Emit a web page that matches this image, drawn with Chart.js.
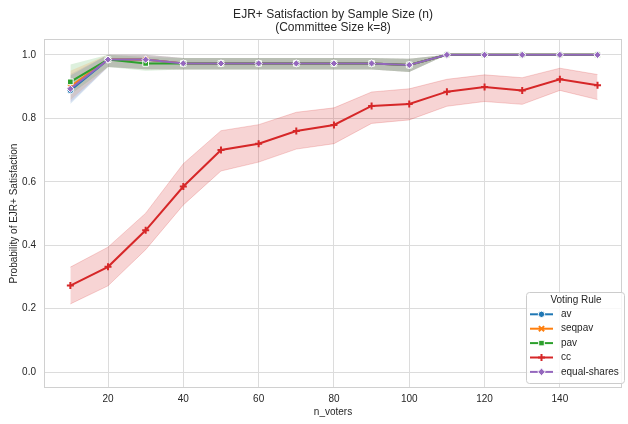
<!DOCTYPE html>
<html>
<head>
<meta charset="utf-8">
<script src="https://cdn.jsdelivr.net/npm/chart.js@4.4.0/dist/chart.umd.min.js"></script>
<style>
  html, body { margin: 0; padding: 0; background: #fff; overflow: hidden; }
  #wrap { width: 628px; height: 424px; }
</style>
</head>
<body>
<div id="wrap"><canvas id="chart" width="628" height="424"></canvas></div>
<script>
// =========================
// データ
// =========================
const nVoters = [10, 20, 30, 40, 50, 60, 70, 80, 90, 100, 110, 120, 130, 140, 150];

const avMean = [0.888, 0.985, 0.985, 0.973, 0.973, 0.973, 0.973, 0.973, 0.973, 0.968, 1, 1, 1, 1, 1];
const avLow  = [0.845, 0.962, 0.955, 0.954, 0.954, 0.954, 0.954, 0.954, 0.954, 0.946, 1, 1, 1, 1, 1];
const avHigh = [0.935, 1.000, 1.000, 0.990, 0.990, 0.990, 0.990, 0.990, 0.990, 0.988, 1, 1, 1, 1, 1];

const seqpavMean = [0.900, 0.985, 0.985, 0.973, 0.973, 0.973, 0.973, 0.973, 0.973, 0.968, 1, 1, 1, 1, 1];
const seqpavLow  = [0.858, 0.962, 0.955, 0.954, 0.954, 0.954, 0.954, 0.954, 0.954, 0.946, 1, 1, 1, 1, 1];
const seqpavHigh = [0.950, 1.000, 1.000, 0.990, 0.990, 0.990, 0.990, 0.990, 0.990, 0.988, 1, 1, 1, 1, 1];

const pavMean = [0.915, 0.985, 0.973, 0.973, 0.973, 0.973, 0.973, 0.973, 0.973, 0.968, 1, 1, 1, 1, 1];
const pavLow  = [0.875, 0.962, 0.950, 0.954, 0.954, 0.954, 0.954, 0.954, 0.954, 0.946, 1, 1, 1, 1, 1];
const pavHigh = [0.970, 1.000, 0.993, 0.990, 0.990, 0.990, 0.990, 0.990, 0.990, 0.988, 1, 1, 1, 1, 1];

const ccMean = [0.273, 0.332, 0.447, 0.585, 0.700, 0.720, 0.760, 0.779, 0.839, 0.845, 0.884, 0.899, 0.888, 0.923, 0.904];
const ccLow  = [0.215, 0.272, 0.386, 0.527, 0.634, 0.662, 0.703, 0.720, 0.784, 0.795, 0.838, 0.853, 0.844, 0.888, 0.859];
const ccHigh = [0.331, 0.394, 0.501, 0.657, 0.761, 0.780, 0.819, 0.833, 0.883, 0.893, 0.923, 0.937, 0.928, 0.958, 0.938];

const esMean = [0.893, 0.985, 0.985, 0.973, 0.973, 0.973, 0.973, 0.973, 0.973, 0.968, 1, 1, 1, 1, 1];
const esLow  = [0.850, 0.962, 0.955, 0.954, 0.954, 0.954, 0.954, 0.954, 0.954, 0.946, 1, 1, 1, 1, 1];
const esHigh = [0.940, 1.000, 1.000, 0.990, 0.990, 0.990, 0.990, 0.990, 0.990, 0.988, 1, 1, 1, 1, 1];

const yTicks = [0.0, 0.2, 0.4, 0.6, 0.8, 1.0];

const FONT = '"Liberation Sans", Arial, sans-serif';
const TEXT = '#262626';

// 系列の設定（ラベル・色・マーカー）
const series = [
  { label: 'av',           color: '#1f77b4', mean: avMean,     low: avLow,     high: avHigh,     marker: 'circle' },
  { label: 'seqpav',       color: '#ff7f0e', mean: seqpavMean, low: seqpavLow, high: seqpavHigh, marker: 'x' },
  { label: 'pav',          color: '#2ca02c', mean: pavMean,    low: pavLow,    high: pavHigh,    marker: 'square' },
  { label: 'cc',           color: '#d62728', mean: ccMean,     low: ccLow,     high: ccHigh,     marker: 'plus' },
  { label: 'equal-shares', color: '#9467bd', mean: esMean,     low: esLow,     high: esHigh,     marker: 'diamond' }
];

function rgba(hex, a) {
  const r = parseInt(hex.slice(1, 3), 16);
  const g = parseInt(hex.slice(3, 5), 16);
  const b = parseInt(hex.slice(5, 7), 16);
  return `rgba(${r},${g},${b},${a})`;
}

function pts(values) {
  return nVoters.map((n, i) => ({ x: n, y: values[i] }));
}

// =========================
// データセット作成（信頼区間の帯＋折れ線）
// =========================
const datasets = [];
series.forEach(s => {
  const isCC = s.label === 'cc';
  const edge = isCC ? 1 : 0;          // ccの帯だけ薄い縁取り
  const alpha = isCC ? 0.2 : 0.16;    // 上の4本は重なるので少し薄く
  datasets.push({
    label: s.label + '_high',
    data: pts(s.high),
    fill: '+1',
    backgroundColor: rgba(s.color, alpha),
    borderColor: rgba(s.color, 0.2),
    borderWidth: edge,
    pointRadius: 0,
    order: 50
  });
  datasets.push({
    label: s.label + '_low',
    data: pts(s.low),
    fill: false,
    borderColor: rgba(s.color, 0.2),
    borderWidth: edge,
    pointRadius: 0,
    order: 50
  });
});

const chartStyles = {
  circle:  { pointStyle: 'circle',   pointRadius: 3.3, bg: true },
  x:       { pointStyle: 'crossRot', pointRadius: 3.3, bg: false },
  square:  { pointStyle: 'rect',     pointRadius: 4,   bg: true },
  plus:    { pointStyle: 'cross',    pointRadius: 3.5, bg: false },
  diamond: { pointStyle: 'rectRot',  pointRadius: 3.6, bg: true }
};

series.forEach((s, idx) => {
  const st = chartStyles[s.marker];
  datasets.push({
    label: s.label,
    data: pts(s.mean),
    fill: false,
    borderColor: s.color,
    borderWidth: 2,
    tension: 0,
    pointStyle: st.pointStyle,
    pointRadius: st.pointRadius,
    pointBackgroundColor: s.color,
    pointBorderColor: st.bg ? '#ffffff' : s.color,
    pointBorderWidth: st.bg ? 1 : 2,
    order: 10 - idx
  });
});

// =========================
// 枠線・タイトル・凡例を描くプラグイン
// =========================
function drawMarker(ctx, type, x, y, color) {
  ctx.save();
  ctx.fillStyle = color;
  ctx.strokeStyle = '#ffffff';
  ctx.lineWidth = 1;
  if (type === 'circle') {
    ctx.beginPath();
    ctx.arc(x, y, 3.2, 0, Math.PI * 2);
    ctx.fill();
    ctx.stroke();
  } else if (type === 'square') {
    ctx.beginPath();
    ctx.rect(x - 2.8, y - 2.8, 5.6, 5.6);
    ctx.fill();
    ctx.stroke();
  } else if (type === 'diamond') {
    ctx.beginPath();
    ctx.moveTo(x, y - 3.8);
    ctx.lineTo(x + 3.8, y);
    ctx.lineTo(x, y + 3.8);
    ctx.lineTo(x - 3.8, y);
    ctx.closePath();
    ctx.fill();
    ctx.stroke();
  } else if (type === 'x') {
    ctx.strokeStyle = color;
    ctx.lineWidth = 2;
    ctx.beginPath();
    ctx.moveTo(x - 2.6, y - 2.6); ctx.lineTo(x + 2.6, y + 2.6);
    ctx.moveTo(x - 2.6, y + 2.6); ctx.lineTo(x + 2.6, y - 2.6);
    ctx.stroke();
  } else if (type === 'plus') {
    ctx.strokeStyle = color;
    ctx.lineWidth = 2;
    ctx.beginPath();
    ctx.moveTo(x - 3.5, y); ctx.lineTo(x + 3.5, y);
    ctx.moveTo(x, y - 3.5); ctx.lineTo(x, y + 3.5);
    ctx.stroke();
  }
  ctx.restore();
}

const decorPlugin = {
  id: 'decor',
  afterDraw(chart) {
    const ctx = chart.ctx;
    const area = chart.chartArea;

    // 枠線
    ctx.save();
    ctx.strokeStyle = '#d0d0d0';
    ctx.lineWidth = 1;
    ctx.strokeRect(area.left + 0.5, area.top + 0.5, area.right - area.left - 1, area.bottom - area.top - 1);
    ctx.restore();

    // タイトル（2行）
    ctx.save();
    ctx.fillStyle = TEXT;
    ctx.font = '12px ' + FONT;
    ctx.textAlign = 'center';
    ctx.textBaseline = 'middle';
    const cx = (area.left + area.right) / 2;
    ctx.fillText('EJR+ Satisfaction by Sample Size (n)', cx, 15);
    ctx.fillText('(Committee Size k=8)', cx, 28);
    ctx.restore();

    // 凡例
    const bx = 526, by = 292, bw = 98, bh = 91;
    ctx.save();
    ctx.fillStyle = 'rgba(255,255,255,0.8)';
    ctx.strokeStyle = '#cccccc';
    ctx.lineWidth = 1;
    ctx.beginPath();
    ctx.roundRect(bx + 0.5, by + 0.5, bw, bh, 3);
    ctx.fill();
    ctx.stroke();

    ctx.fillStyle = TEXT;
    ctx.font = '10px ' + FONT;
    ctx.textAlign = 'center';
    ctx.textBaseline = 'middle';
    ctx.fillText('Voting Rule', bx + bw / 2 + 1, 300);

    ctx.textAlign = 'left';
    series.forEach((s, i) => {
      const ry = 314.3 + i * 14.4;
      ctx.strokeStyle = s.color;
      ctx.lineWidth = 2;
      ctx.beginPath();
      ctx.moveTo(530, ry);
      ctx.lineTo(553, ry);
      ctx.stroke();
      drawMarker(ctx, s.marker, 541.5, ry, s.color);
      ctx.fillStyle = TEXT;
      ctx.fillText(s.label, 561, ry);
    });
    ctx.restore();
  }
};

// =========================
// グラフ描画
// =========================
const ctx = document.getElementById('chart').getContext('2d');
const chart = new Chart(ctx, {
  type: 'line',
  data: { datasets: datasets },
  options: {
    responsive: false,
    animation: false,
    devicePixelRatio: 1,
    layout: { padding: { top: 39, right: 0, bottom: 0, left: 0 } },
    plugins: {
      legend: { display: false },
      tooltip: { enabled: false },
      title: { display: false }
    },
    scales: {
      x: {
        type: 'linear',
        min: 3,
        max: 156.5,
        ticks: {
          stepSize: 20,
          includeBounds: false,
          color: TEXT,
          font: { size: 10, family: FONT },
          padding: 5,
          maxRotation: 0
        },
        grid: { color: '#dcdcdc', drawTicks: false },
        border: { display: false },
        title: {
          display: true,
          text: 'n_voters',
          color: TEXT,
          font: { size: 10, family: FONT },
          padding: { top: 0, bottom: 6 }
        },
        afterFit(scale) { scale.height = 36; }
      },
      y: {
        type: 'linear',
        min: -0.05,
        max: 1.05,
        afterBuildTicks(scale) {
          scale.ticks = yTicks.map(v => ({ value: v }));
        },
        ticks: {
          color: TEXT,
          font: { size: 10, family: FONT },
          padding: 8,
          callback: v => Number(v).toFixed(1)
        },
        grid: { color: '#dcdcdc', drawTicks: false },
        border: { display: false },
        title: {
          display: true,
          text: 'Probability of EJR+ Satisfaction',
          color: TEXT,
          font: { size: 10, family: FONT },
          padding: { top: 8, bottom: 0 }
        },
        afterFit(scale) { scale.width = 44; }
      }
    }
  },
  plugins: [decorPlugin]
});
</script>
</body>
</html>
